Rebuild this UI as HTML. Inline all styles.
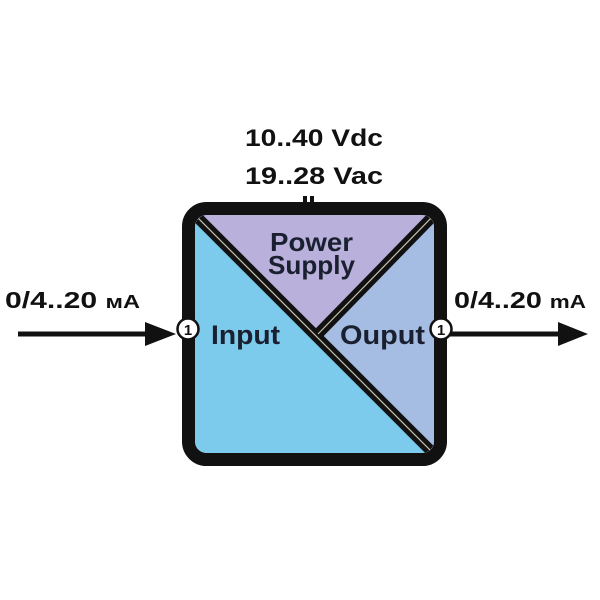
<!DOCTYPE html>
<html><head><style>body{margin:0;background:#fff}svg{display:block}</style></head><body>
<svg width="600" height="600" viewBox="0 0 600 600" font-family="Liberation Sans, sans-serif" font-weight="bold">
<rect width="600" height="600" fill="#fff"/>
<text x="245" y="146" font-size="24" textLength="138" lengthAdjust="spacingAndGlyphs" fill="#111">10..40 Vdc</text>
<text x="245" y="184" font-size="24" textLength="138" lengthAdjust="spacingAndGlyphs" fill="#111">19..28 Vac</text>
<rect x="303" y="196" width="4" height="10" fill="#111"/><rect x="310" y="196" width="4" height="10" fill="#111"/>
<defs><clipPath id="c"><rect x="195" y="215" width="239" height="238" rx="12"/></clipPath></defs>
<g clip-path="url(#c)">
<rect x="190" y="210" width="250" height="250" fill="#7ccbec"/>
<polygon points="195,215 434,215 316,336" fill="#b9b0dc"/>
<polygon points="434,215 316,336 434,453" fill="#a5bde3"/>
<line x1="190" y1="210" x2="440" y2="460" stroke="#111" stroke-width="11"/>
<line x1="434" y1="215" x2="316" y2="336" stroke="#111" stroke-width="11"/>
<line x1="190" y1="210" x2="440" y2="460" stroke="#c9c0b0" stroke-width="1.2"/>
<line x1="434" y1="215" x2="318" y2="334" stroke="#c9c0b0" stroke-width="1.2"/>
</g>
<rect x="188.5" y="208.5" width="252" height="251" rx="18" fill="none" stroke="#111" stroke-width="13"/>
<text x="270" y="251" font-size="26" textLength="83" lengthAdjust="spacingAndGlyphs" fill="#1a2030">Power</text>
<text x="268" y="274" font-size="26" textLength="87" lengthAdjust="spacingAndGlyphs" fill="#1a2030">Supply</text>
<text x="211" y="344" font-size="27" textLength="69" lengthAdjust="spacingAndGlyphs" fill="#1a2030">Input</text>
<text x="340" y="344" font-size="27" textLength="85" lengthAdjust="spacingAndGlyphs" fill="#1a2030">Ouput</text>
<line x1="18" y1="334" x2="150" y2="334" stroke="#111" stroke-width="5"/>
<polygon points="145,322 176,334 145,346" fill="#111"/>
<line x1="450" y1="334" x2="562" y2="334" stroke="#111" stroke-width="5"/>
<polygon points="558,322 588,334 558,346" fill="#111"/>
<circle cx="188" cy="329" r="10.5" fill="#fff" stroke="#111" stroke-width="2.5"/>
<text x="188" y="335" font-size="15" text-anchor="middle" fill="#111">1</text>
<circle cx="441" cy="329" r="10.5" fill="#fff" stroke="#111" stroke-width="2.5"/>
<text x="441" y="335" font-size="15" text-anchor="middle" fill="#111">1</text>
<text x="5" y="308" font-size="23" textLength="135" lengthAdjust="spacingAndGlyphs" fill="#111">0/4..20 <tspan font-size="18">мA</tspan></text>
<text x="454" y="308" font-size="23" textLength="132" lengthAdjust="spacingAndGlyphs" fill="#111">0/4..20 <tspan font-size="18">mA</tspan></text>
</svg>
</body></html>
